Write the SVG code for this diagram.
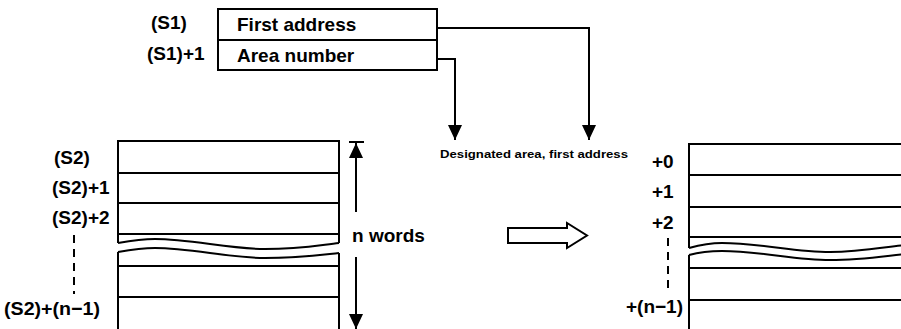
<svg xmlns="http://www.w3.org/2000/svg" width="901" height="329" viewBox="0 0 901 329">
<style>
  .ln{fill:none;stroke:#000;stroke-width:2}
  .box{fill:#fff;stroke:#000;stroke-width:2}
  .t{font-family:"Liberation Sans",Arial,Helvetica,sans-serif;font-weight:bold;font-size:19px;fill:#000}
  .ts{font-family:"Liberation Sans",Arial,Helvetica,sans-serif;font-weight:bold;font-size:11px;fill:#000}
  .dash{fill:none;stroke:#000;stroke-width:2;stroke-dasharray:8 6}
</style>
<defs>
  <marker id="ah" viewBox="0 -8 16 16" refX="15" refY="0" markerWidth="16" markerHeight="16" markerUnits="userSpaceOnUse" orient="auto">
    <path d="M0,-7 L15,0 L0,7 Z" fill="#000"/>
  </marker>
</defs>
<rect width="901" height="329" fill="#fff"/>

<g id="s1-table">
  <rect class="box" x="218" y="9" width="219" height="61"/>
  <line class="ln" x1="218" y1="40" x2="437" y2="40"/>
  <text class="t" x="237" y="31">First address</text>
  <text class="t" x="237" y="62">Area number</text>
  <text class="t" x="151" y="29">(S1)</text>
  <text class="t" x="147" y="60">(S1)+1</text>
</g>

<g id="s2-stack">
  <path class="ln" d="M118,243 L118,141 L339,141 L339,243"/>
  <line class="ln" x1="118" y1="173" x2="339" y2="173"/>
  <line class="ln" x1="118" y1="203" x2="339" y2="203"/>
  <line class="ln" x1="118" y1="234" x2="339" y2="234"/>
  <path class="ln" d="M118,243 C135,240 145,239 155,239 C190,239 230,249 265,249 C300,249 320,245 339,243"/>
  <path class="ln" d="M118,252 C135,249 145,248 155,248 C190,248 230,258 265,258 C300,258 320,255 339,253"/>
  <path class="ln" d="M118,252 L118,332 L339,332 L339,253"/>
  <line class="ln" x1="118" y1="266" x2="339" y2="266"/>
  <line class="ln" x1="118" y1="297" x2="339" y2="297"/>
  <text class="t" x="54" y="164">(S2)</text>
  <text class="t" x="52" y="194">(S2)+1</text>
  <text class="t" x="52" y="224">(S2)+2</text>
  <line class="dash" x1="74" y1="235" x2="74" y2="294"/>
  <text class="t" x="4" y="315" textLength="96" lengthAdjust="spacingAndGlyphs">(S2)+(n−1)</text>
</g>

<g id="n-words">
  <line class="ln" x1="349" y1="142" x2="364" y2="142"/>
  <line class="ln" x1="356" y1="212" x2="356" y2="143" marker-end="url(#ah)"/>
  <line class="ln" x1="356" y1="257" x2="356" y2="329" marker-end="url(#ah)"/>
  <text class="t" x="352" y="242">n words</text>
</g>

<g id="hollow-arrow">
  <path d="M508,228 L567,228 L567,223 L587,235.5 L567,248 L567,243 L508,243 Z" fill="#fff" stroke="#000" stroke-width="2" stroke-linejoin="miter"/>
</g>

<g id="dest-stack">
  <path class="ln" d="M689,248 L689,144 L905,144"/>
  <line class="ln" x1="689" y1="175" x2="905" y2="175"/>
  <line class="ln" x1="689" y1="207" x2="905" y2="207"/>
  <line class="ln" x1="689" y1="237" x2="905" y2="237"/>
  <path class="ln" d="M689,248 C700,245 710,243 722,243 C760,243 795,252 830,252 C860,252 885,247 905,245"/>
  <path class="ln" d="M689,255 C700,252 710,251 722,251 C760,251 795,260 830,260 C860,260 885,256 905,254"/>
  <path class="ln" d="M689,255 L689,332"/>
  <line class="ln" x1="689" y1="268" x2="905" y2="268"/>
  <line class="ln" x1="689" y1="300" x2="905" y2="300"/>
  <text class="t" x="652" y="168">+0</text>
  <text class="t" x="652" y="198">+1</text>
  <text class="t" x="652" y="229">+2</text>
  <line class="dash" x1="668" y1="238" x2="668" y2="293"/>
  <text class="t" x="626" y="313">+(n−1)</text>
  <text class="ts" x="440" y="158" textLength="188" lengthAdjust="spacingAndGlyphs">Designated area, first address</text>
</g>

<g id="connectors">
  <path class="ln" d="M437,28 L589,28 L589,140" marker-end="url(#ah)"/>
  <path class="ln" d="M437,59 L455,59 L455,140" marker-end="url(#ah)"/>
</g>
</svg>
